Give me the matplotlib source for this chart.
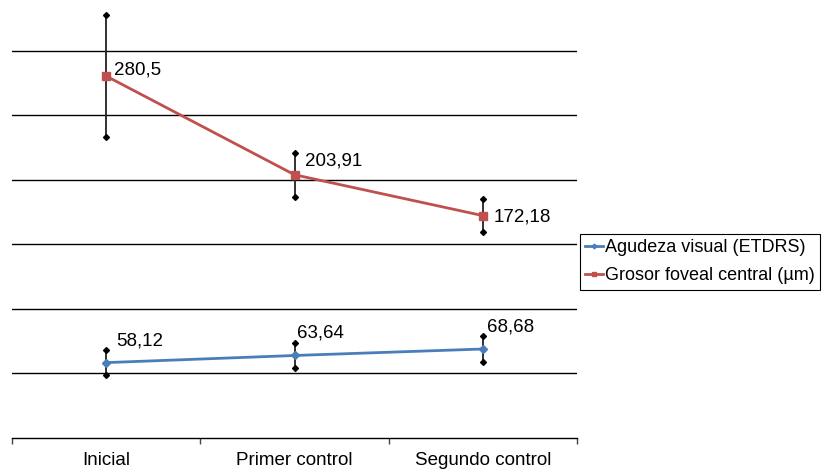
import numpy as np
import matplotlib
matplotlib.use("Agg")
from matplotlib import pyplot as plt

categories = ["Inicial", "Primer control", "Segundo control"]
agudeza = [58.12, 63.64, 68.68]
agudeza_err = [9.7, 9.8, 10.0]
grosor = [280.5, 203.91, 172.18]
grosor_err = [47.0, 17.0, 13.0]
labels_agudeza = ["58,12", "63,64", "68,68"]
labels_grosor = ["280,5", "203,91", "172,18"]

plt.rcParams["font.family"] = ["Liberation Sans", "DejaVu Sans"]

fig = plt.figure(figsize=(8.24, 4.71), dpi=100)
# top of the value axis lies above the picture, as in the original crop
ax = fig.add_axes([12 / 824, 1 - 437.5 / 471, (577 - 12) / 824, 451 / 471])

x = np.arange(len(categories))
blue = "#4A7EBB"
red = "#C0504D"
fs = 13.5

for vals, errs in ((grosor, grosor_err), (agudeza, agudeza_err)):
    vals = np.array(vals)
    errs = np.array(errs)
    ax.errorbar(x, vals, yerr=errs, fmt="none", ecolor="#222222", elinewidth=1.3, zorder=3)
    ax.plot(x, vals + errs, "D", ms=3, color="black", zorder=4)
    ax.plot(x, vals - errs, "D", ms=3, color="black", zorder=4)

l1, = ax.plot(x, agudeza, color=blue, lw=2, marker="D", ms=4, zorder=5, label="Agudeza visual (ETDRS)")
l2, = ax.plot(x, grosor, color=red, lw=2, marker="s", ms=6, zorder=5, label="Grosor foveal central (\u00b5m)")

offs_g = [(8, 6), (10, 14), (11, -1)]
offs_a = [(10, 22), (2, 22), (4, 22)]
for xi, v, t, o in zip(x, grosor, labels_grosor, offs_g):
    ax.annotate(t, (xi, v), xytext=o, textcoords="offset pixels", ha="left", va="center", fontsize=fs)
for xi, v, t, o in zip(x, agudeza, labels_agudeza, offs_a):
    ax.annotate(t, (xi, v), xytext=o, textcoords="offset pixels", ha="left", va="center", fontsize=fs)

ax.set_xlim(-0.5, 2.5)
ax.set_ylim(0, 350)
ax.set_yticks([])
for g in range(50, 350, 50):
    ax.axhline(g, color="black", lw=1, zorder=1)

ax.set_xticks(x)
ax.set_xticklabels(categories, fontsize=fs)
ax.tick_params(axis="x", which="major", length=0, pad=10.5)
ax.set_xticks([-0.5, 0.5, 1.5, 2.5], minor=True)
ax.tick_params(axis="x", which="minor", length=4, width=1, color="#444444", direction="out")

for s in ("left", "right", "top"):
    ax.spines[s].set_visible(False)
ax.spines["bottom"].set_color("black")
ax.spines["bottom"].set_linewidth(1)

leg = fig.legend(handles=[l1, l2], loc="upper left", bbox_to_anchor=(580 / 824, 1 - 234 / 471),
                 borderaxespad=0, fancybox=False, edgecolor="black", framealpha=1,
                 fontsize=13, handlelength=1.0, handletextpad=0.1, borderpad=0.3,
                 labelspacing=0.6, markerscale=0.6)
leg.get_frame().set_linewidth(0.8)

fig.savefig("out.png", dpi=100, facecolor="w")
